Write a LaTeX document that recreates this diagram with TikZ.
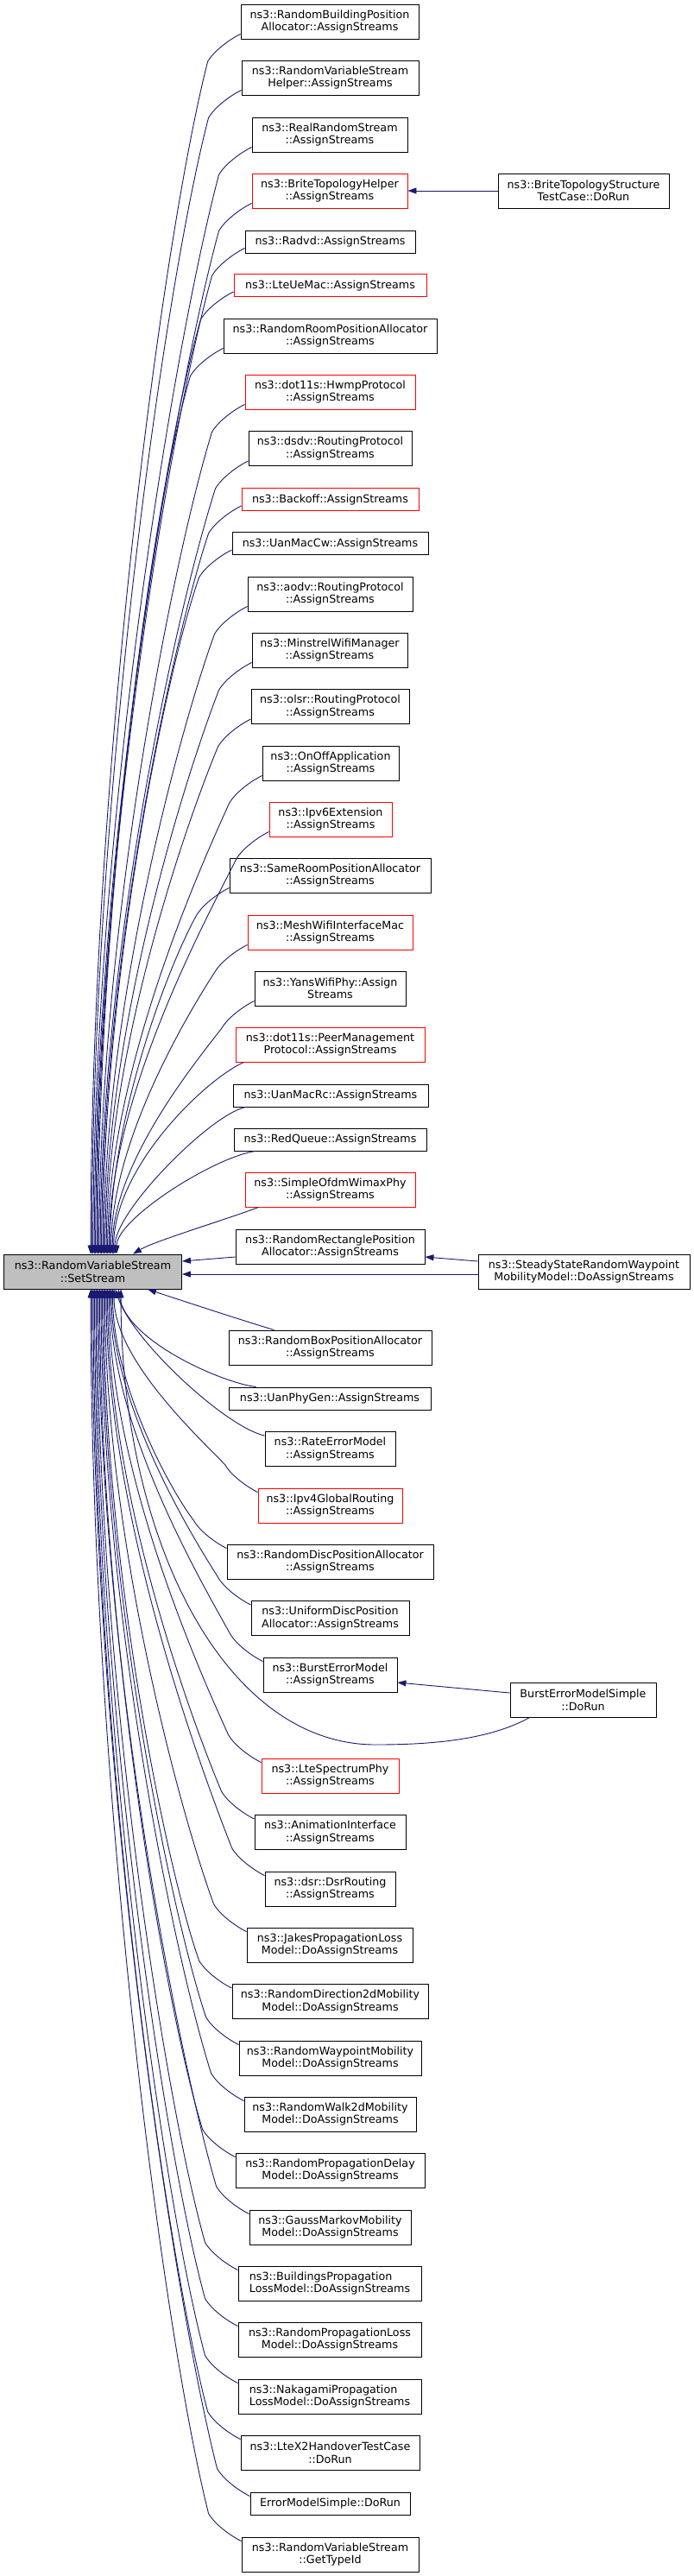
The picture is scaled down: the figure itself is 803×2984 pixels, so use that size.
\documentclass[tikz,border=0pt]{standalone}
\usepackage{fontspec}
\setmainfont{DejaVu Sans}
\usetikzlibrary{arrows.meta}
\definecolor{edgec}{HTML}{191970}
\definecolor{redb}{HTML}{FF0000}
\definecolor{mainfill}{HTML}{BFBFBF}
\tikzset{
 box/.style={draw=black, line width=0.9pt, fill=white, inner sep=0pt, align=center,
   font=\fontsize{12.7}{14.5}\selectfont, text=black},
 redbox/.style={box, draw=redb},
 mainbox/.style={box, fill=mainfill},
 leftbox/.style={box, align=left},
 conn/.style={draw=edgec, line width=0.9pt, -{Triangle[length=10pt,width=7pt]}}
}
\newcommand\gnode[7]{\node[#6, minimum width=#4pt, minimum height=#5pt] (#1) at (#2,#3) {#7};}
% upper caller: #1 node, #2 bottom y, #3 xshift on main top
\newcommand\upedge[3]{\draw[conn] ([yshift=6pt]#1.south west) .. controls +(-14,7) and +(7,-12) .. ++(-38,32)
  .. controls +({-(25+0.02*(1426-#2))},{0.15*(1426-#2)}) and +(0,{-0.4*(1426-#2)}) .. ([xshift=#3pt]main.north west);}
% lower caller: #1 node, #2 top y, #3 xshift on main bottom
\newcommand\lowedge[3]{\draw[conn] ([yshift=-5pt]#1.north west) .. controls +(-14,-7) and +(7,12) .. ++(-38,-32)
  .. controls +({-(25+0.02*(#2-1520))},{-0.15*(#2-1520)}) and +(0,{0.4*(#2-1520)}) .. ([xshift=#3pt]main.south west);}
\begin{document}
\begin{tikzpicture}[x=1pt,y=-1pt]
\useasboundingbox (0,0) rectangle (803,2984);
\gnode{n1}{382}{25}{206}{40}{box}{ns3::RandomBuildingPosition\\Allocator::AssignStreams}
\gnode{n2}{382.5}{90}{205}{40}{box}{ns3::RandomVariableStream\\Helper::AssignStreams}
\gnode{n3}{382}{156}{180}{40}{box}{ns3::RealRandomStream\\::AssignStreams}
\gnode{n4}{382}{221}{180}{40}{redbox}{ns3::BriteTopologyHelper\\::AssignStreams}
\gnode{r1}{676}{221}{198}{40}{box}{ns3::BriteTopologyStructure\\TestCase::DoRun}
\gnode{n5}{382.5}{280}{197}{26}{box}{ns3::Radvd::AssignStreams}
\gnode{n6}{382.5}{330.5}{223}{26}{redbox}{ns3::LteUeMac::AssignStreams}
\gnode{n7}{382.5}{389}{247}{40}{box}{ns3::RandomRoomPositionAllocator\\::AssignStreams}
\gnode{n8}{382.5}{454}{197}{40}{redbox}{ns3::dot11s::HwmpProtocol\\::AssignStreams}
\gnode{n9}{382.5}{519.5}{189}{40}{box}{ns3::dsdv::RoutingProtocol\\::AssignStreams}
\gnode{n10}{382.5}{578.5}{205}{26}{redbox}{ns3::Backoff::AssignStreams}
\gnode{n11}{382.5}{629.5}{227}{26}{box}{ns3::UanMacCw::AssignStreams}
\gnode{n12}{382.5}{688}{191}{40}{box}{ns3::aodv::RoutingProtocol\\::AssignStreams}
\gnode{n13}{382}{753}{180}{40}{box}{ns3::MinstrelWifiManager\\::AssignStreams}
\gnode{n14}{382.5}{818.5}{183}{40}{box}{ns3::olsr::RoutingProtocol\\::AssignStreams}
\gnode{n15}{383}{884}{158}{40}{box}{ns3::OnOffApplication\\::AssignStreams}
\gnode{n16}{383}{949}{142}{40}{redbox}{ns3::Ipv6Extension\\::AssignStreams}
\gnode{n17}{382.5}{1014}{233}{40}{box}{ns3::SameRoomPositionAllocator\\::AssignStreams}
\gnode{n18}{382.5}{1080}{191}{40}{redbox}{ns3::MeshWifiInterfaceMac\\::AssignStreams}
\gnode{n19}{382.5}{1145}{175}{40}{box}{ns3::YansWifiPhy::Assign\\Streams}
\gnode{n20}{382.5}{1210}{219}{40}{redbox}{ns3::dot11s::PeerManagement\\Protocol::AssignStreams}
\gnode{n21}{383}{1269}{226}{26}{box}{ns3::UanMacRc::AssignStreams}
\gnode{n22}{382.5}{1320}{223}{26}{box}{ns3::RedQueue::AssignStreams}
\gnode{n23}{382.5}{1378}{197}{40}{redbox}{ns3::SimpleOfdmWimaxPhy\\::AssignStreams}
\gnode{n24}{382.5}{1444}{219}{40}{box}{ns3::RandomRectanglePosition\\Allocator::AssignStreams}
\gnode{main}{107.5}{1473}{206}{40}{mainbox}{ns3::RandomVariableStream\\::SetStream}
\gnode{r2}{676.5}{1473}{245}{40}{box}{ns3::SteadyStateRandomWaypoint\\MobilityModel::DoAssignStreams}
\gnode{n25}{382.5}{1561}{235}{40}{box}{ns3::RandomBoxPositionAllocator\\::AssignStreams}
\gnode{n26}{382}{1620}{234}{26}{box}{ns3::UanPhyGen::AssignStreams}
\gnode{n27}{382.5}{1678.5}{151}{40}{box}{ns3::RateErrorModel\\::AssignStreams}
\gnode{n28}{382.5}{1744}{167}{40}{redbox}{ns3::Ipv4GlobalRouting\\::AssignStreams}
\gnode{n29}{382.5}{1809}{239}{40}{box}{ns3::RandomDiscPositionAllocator\\::AssignStreams}
\gnode{n30}{382.5}{1874.5}{183}{40}{box}{ns3::UniformDiscPosition\\Allocator::AssignStreams}
\gnode{n31}{382.5}{1940}{155}{40}{box}{ns3::BurstErrorModel\\::AssignStreams}
\gnode{r3}{675.5}{1969}{169}{40}{box}{BurstErrorModelSimple\\::DoRun}
\gnode{n32}{382.5}{2057}{159}{40}{redbox}{ns3::LteSpectrumPhy\\::AssignStreams}
\gnode{n33}{382.5}{2122.5}{175}{40}{box}{ns3::AnimationInterface\\::AssignStreams}
\gnode{n34}{382.5}{2188}{151}{40}{box}{ns3::dsr::DsrRouting\\::AssignStreams}
\gnode{n35}{382}{2253}{192}{40}{box}{ns3::JakesPropagationLoss\\Model::DoAssignStreams}
\gnode{n36}{382.5}{2318.5}{227}{40}{box}{ns3::RandomDirection2dMobility\\Model::DoAssignStreams}
\gnode{n37}{382.5}{2384}{211}{40}{box}{ns3::RandomWaypointMobility\\Model::DoAssignStreams}
\gnode{n38}{382.5}{2449}{199}{40}{box}{ns3::RandomWalk2dMobility\\Model::DoAssignStreams}
\gnode{n39}{382.5}{2514}{219}{40}{box}{ns3::RandomPropagationDelay\\Model::DoAssignStreams}
\gnode{n40}{382.5}{2580}{187}{40}{box}{ns3::GaussMarkovMobility\\Model::DoAssignStreams}
\gnode{n41}{382}{2645}{212}{40}{leftbox}{ns3::BuildingsPropagation\\LossModel::DoAssignStreams}
\gnode{n42}{382}{2710}{212}{40}{box}{ns3::RandomPropagationLoss\\Model::DoAssignStreams}
\gnode{n43}{382}{2776}{212}{40}{leftbox}{ns3::NakagamiPropagation\\LossModel::DoAssignStreams}
\gnode{n44}{382.5}{2841}{207}{40}{box}{ns3::LteX2HandoverTestCase\\::DoRun}
\gnode{n45}{382.5}{2900}{185}{26}{box}{ErrorModelSimple::DoRun}
\gnode{n46}{382.5}{2959}{205}{40}{box}{ns3::RandomVariableStream\\::GetTypeId}
% upper callers
\upedge{n1}{45}{101}
\upedge{n2}{110}{102.4}
\upedge{n3}{176}{103.8}
\upedge{n4}{241}{105.2}
\upedge{n5}{293}{106.6}
\upedge{n6}{343}{108}
\upedge{n7}{409}{109.4}
\upedge{n8}{474}{110.8}
\upedge{n9}{540}{112.2}
\upedge{n10}{591}{113.6}
\upedge{n11}{642}{115}
\upedge{n12}{708}{116.4}
\upedge{n13}{773}{117.8}
\upedge{n14}{839}{119.2}
\upedge{n15}{904}{120.6}
\upedge{n16}{969}{122}
\upedge{n17}{1034}{123.4}
\upedge{n18}{1100}{124.8}
\upedge{n19}{1165}{126.2}
\draw[conn] ([xshift=10pt]n20.south west) .. controls +(-45,20) and +(0,-100) .. ([xshift=127.6pt]main.north west);
\draw[conn] ([xshift=15pt]n21.south west) .. controls +(-40,8) and +(0,-50) .. ([xshift=129pt]main.north west);
\draw[conn] ([xshift=25pt]n22.south west) .. controls +(-50,8) and +(0,-40) .. ([xshift=131pt]main.north west);
\draw[conn] ([xshift=16pt]n23.south west) .. controls +(-40,15) and +(25,-15) .. ([xshift=150pt]main.north west);
\draw[conn] ([yshift=-12pt]n24.west) -- ([yshift=12pt]main.east);
% lower callers
\draw[conn] ([xshift=53pt]n25.north west) .. controls +(-40,-12) and +(30,10) .. ([xshift=167pt]main.south west);
\draw[conn] ([xshift=32pt]n26.north west) .. controls +(-40,-5) and +(10,60) .. ([xshift=133pt]main.south west);
\draw[conn] ([yshift=-5pt]n27.north west) .. controls +(-45,-10) and +(20,60) .. ([xshift=129.5pt]main.south west);
\lowedge{n28}{1724}{128}
\lowedge{n29}{1789}{126.5}
\lowedge{n30}{1854}{125}
\lowedge{n31}{1920}{123.5}
\lowedge{n32}{2037}{122}
\lowedge{n33}{2102}{120.5}
\lowedge{n34}{2168}{119}
\lowedge{n35}{2233}{117.5}
\lowedge{n36}{2298}{116}
\lowedge{n37}{2364}{114.5}
\lowedge{n38}{2429}{113}
\lowedge{n39}{2494}{111.5}
\lowedge{n40}{2560}{110}
\lowedge{n41}{2625}{108.5}
\lowedge{n42}{2690}{107}
\lowedge{n43}{2756}{105.5}
\lowedge{n44}{2821}{104}
\lowedge{n45}{2887}{102.5}
\lowedge{n46}{2939}{101}
% second-level callers
\draw[conn] (r1) -- (n4);
\draw[conn] ([yshift=12pt]r2.west) -- ([yshift=-12pt]n24.east);
\draw[conn] ([yshift=-3pt]r2.west) -- ([yshift=-3pt]main.east);
\draw[conn] ([yshift=8pt]r3.west) -- ([yshift=-9pt]n31.east);
\coordinate (bbot) at (435,2021);
\draw[conn] ([xshift=23pt]r3.south west) .. controls +(-45,25) and +(70,0) .. (bbot)
  .. controls +(-175,0) and +(0,290) .. ([xshift=136pt]main.south west);
\end{tikzpicture}
\end{document}
